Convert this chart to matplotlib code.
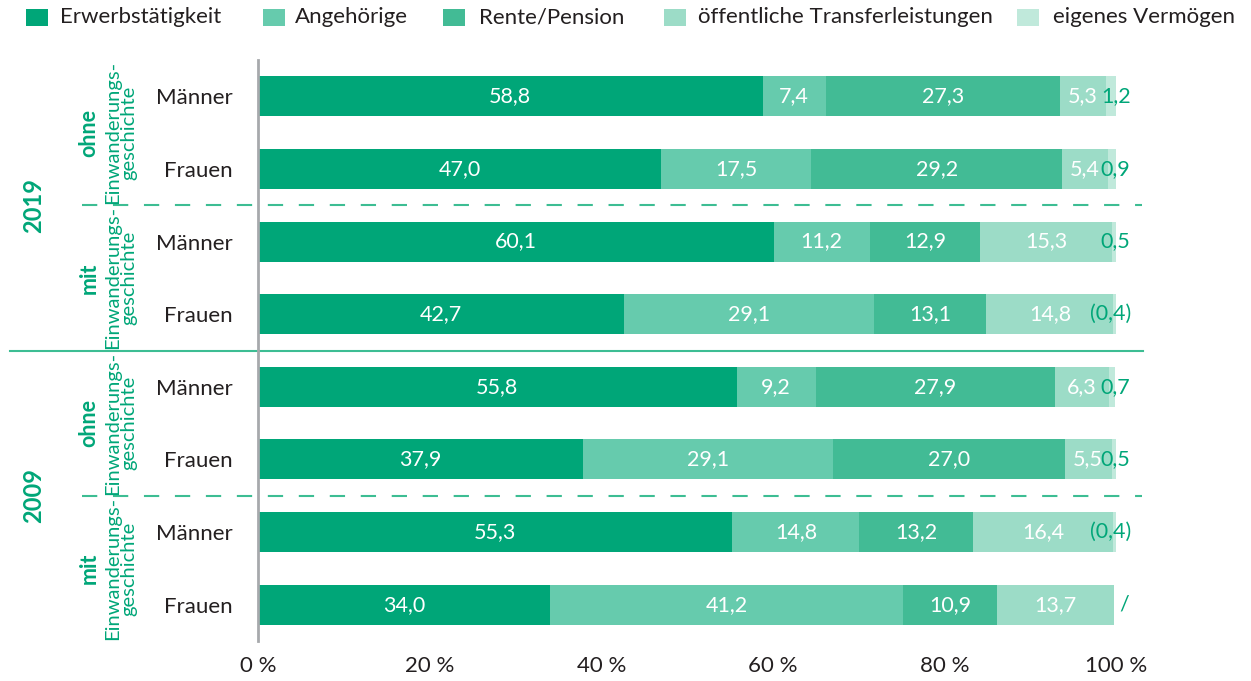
import numpy as np
import matplotlib.pyplot as plt
from matplotlib.patches import Rectangle
from matplotlib import transforms

plt.rcParams['font.family'] = ['Lato', 'DejaVu Sans']
plt.rcParams['lines.scale_dashes'] = False

categories = ['Erwerbstätigkeit', 'Angehörige', 'Rente/Pension',
              'öffentliche Transferleistungen', 'eigenes Vermögen']
colors = ['#00a678', '#66cbad', '#42bb95', '#9cdcc7', '#c0e9db']
row_labels = ['Männer', 'Frauen'] * 4
years = ['2019', '2009']
groups = ['ohne', 'mit']

# Anteile in %, Reihenfolge von oben nach unten
erwerb = [58.8, 47.0, 60.1, 42.7, 55.8, 37.9, 55.3, 34.0]
angehoerige = [7.4, 17.5, 11.2, 29.1, 9.2, 29.1, 14.8, 41.2]
rente = [27.3, 29.2, 12.9, 13.1, 27.9, 27.0, 13.2, 10.9]
transfer = [5.3, 5.4, 15.3, 14.8, 6.3, 5.5, 16.4, 13.7]
vermoegen = [1.2, 0.9, 0.5, 0.4, 0.7, 0.5, 0.4, np.nan]
# eingeschraenkte Aussagekraft -> Wert in Klammern
vermoegen_klammer = [False, False, False, True, False, False, True, False]

green = '#00a678'
line_green = '#3dbd93'
text_col = '#231f20'


def fmt(v):
    return f'{v:.1f}'.replace('.', ',')


fig = plt.figure(figsize=(12.51, 6.81), dpi=100)
ax = fig.add_axes([258 / 1251, 1 - 641 / 681, 858 / 1251, 581 / 681])

y = np.arange(len(row_labels))
left = np.zeros(len(row_labels))
series = [erwerb, angehoerige, rente, transfer, vermoegen]
for i, (vals, col) in enumerate(zip(series, colors)):
    v = np.nan_to_num(np.array(vals, dtype=float))
    ax.barh(y, v, left=left, height=0.55, color=col, linewidth=0)
    for yi, (l, w, raw) in enumerate(zip(left, v, vals)):
        if i < 4:
            ax.text(l + w / 2, yi, fmt(w), ha='center', va='center',
                    color='white', fontsize=15.5)
        else:
            if np.isnan(raw):
                s = '/'
            elif vermoegen_klammer[yi]:
                s = f'({fmt(raw)})'
            else:
                s = fmt(raw)
            ax.text(l + w + 1.7, yi, s, ha='right', va='center',
                    color=green, fontsize=15.5)
    left += v

ax.set_xlim(0, 100)
ax.set_ylim(7.5, -0.5)
ticks = [0, 20, 40, 60, 80, 100]
ax.set_xticks(ticks, [f'{t} %' for t in ticks], fontsize=16, color=text_col)
ax.set_yticks(y, row_labels, fontsize=16, color=text_col)
ax.tick_params(axis='x', length=0, pad=11)
ax.tick_params(axis='y', length=0, pad=18)
for side in ['top', 'right', 'bottom']:
    ax.spines[side].set_visible(False)
ax.spines['left'].set_color('#a7a9ac')
ax.spines['left'].set_linewidth(2)

# Trennlinien und Gruppenbeschriftung links
trans = transforms.blended_transform_factory(fig.transFigure, ax.transData)
for k, year in enumerate(years):
    base = 4 * k
    ax.plot([82 / 1251, 1142 / 1251], [base + 1.5, base + 1.5], transform=trans,
            color=line_green, lw=1.5, linestyle=(0, (11, 11.3)), clip_on=False)
    ax.text(34 / 1251, base + 1.5, year, transform=trans, rotation=90,
            ha='center', va='center', color=green, fontsize=17, fontweight='bold')
    for j, grp in enumerate(groups):
        yc = base + 2 * j + 0.5
        ax.text(89 / 1251, yc, grp, transform=trans, rotation=90,
                ha='center', va='center', color=green, fontsize=15.5,
                fontweight='bold')
        ax.text(121 / 1251, yc, 'Einwanderungs-\ngeschichte', transform=trans,
                rotation=90, ha='center', va='center', color=green,
                fontsize=14.5, multialignment='center', linespacing=0.95)
ax.plot([10 / 1251, 1143 / 1251], [3.5, 3.5], transform=trans,
        color=line_green, lw=1.5, clip_on=False)

# Legende
sq_x = [26, 263, 443, 664, 1017]
txt_x = [60, 295, 479, 698, 1053]
for name, col, sx, tx in zip(categories, colors, sq_x, txt_x):
    fig.add_artist(Rectangle((sx / 1251, 1 - 26 / 681), 22 / 1251, 17 / 681,
                             transform=fig.transFigure, color=col, lw=0))
    fig.text(tx / 1251, 1 - 17 / 681, name, ha='left', va='center',
             fontsize=16, color=text_col)

fig.savefig('out.png', dpi=100)
